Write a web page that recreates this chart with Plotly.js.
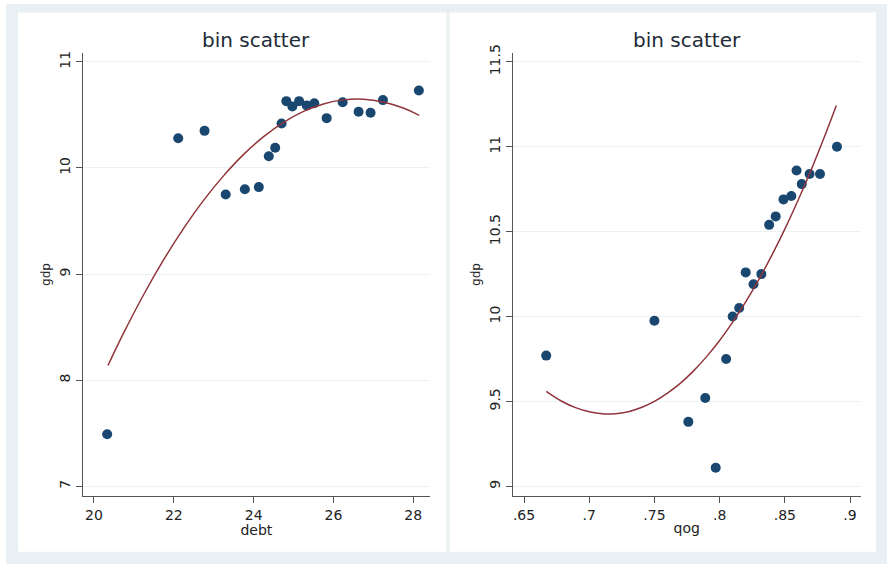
<!DOCTYPE html>
<html>
<head>
<meta charset="utf-8">
<script src="https://cdn.plot.ly/plotly-3.0.1.min.js"></script>
<style>html,body{margin:0;padding:0;background:#fff;}#chart{width:887px;height:564px;}</style>
</head>
<body>
<div id="chart"></div>
<script>
// Left panel: binned debt vs gdp
var debt = [20.33, 22.11, 22.77, 23.30, 23.78, 24.13, 24.38, 24.54, 24.70, 24.82, 24.97, 25.14, 25.33, 25.52, 25.83, 26.23, 26.63, 26.93, 27.24, 28.14];
var gdpByDebt = [7.49, 10.28, 10.35, 9.75, 9.80, 9.82, 10.11, 10.19, 10.42, 10.63, 10.58, 10.63, 10.59, 10.61, 10.47, 10.62, 10.53, 10.52, 10.64, 10.73];
// Left panel: quadratic fit line
var fitDebtX = [20.35, 20.75, 21.25, 21.75, 22.25, 22.75, 23.25, 23.75, 24.25, 24.75, 25.25, 25.75, 26.25, 26.75, 27.25, 27.75, 28.15];
var fitDebtY = [8.138, 8.450, 8.810, 9.138, 9.433, 9.697, 9.928, 10.128, 10.295, 10.430, 10.533, 10.604, 10.642, 10.649, 10.623, 10.565, 10.496];

// Right panel: binned qog vs gdp
var qog = [0.667, 0.750, 0.776, 0.789, 0.797, 0.805, 0.810, 0.815, 0.820, 0.826, 0.832, 0.838, 0.843, 0.849, 0.855, 0.859, 0.863, 0.869, 0.877, 0.890];
var gdpByQog = [9.77, 9.975, 9.38, 9.52, 9.11, 9.75, 10.00, 10.05, 10.26, 10.19, 10.25, 10.54, 10.59, 10.69, 10.71, 10.86, 10.78, 10.84, 10.84, 11.00];
// Right panel: quadratic fit line
var fitQogX = [0.667, 0.68, 0.69, 0.70, 0.71, 0.72, 0.73, 0.74, 0.75, 0.76, 0.77, 0.78, 0.79, 0.80, 0.81, 0.82, 0.83, 0.84, 0.85, 0.86, 0.87, 0.88, 0.8895];
var fitQogY = [9.560, 9.497, 9.462, 9.439, 9.427, 9.428, 9.440, 9.464, 9.500, 9.549, 9.608, 9.680, 9.764, 9.859, 9.967, 10.086, 10.217, 10.360, 10.515, 10.682, 10.860, 11.051, 11.243];

// Tick labels
var debtTicks = [20, 22, 24, 26, 28];
var debtTickText = ["20", "22", "24", "26", "28"];
var gdpTicksL = [7, 8, 9, 10, 11];
var gdpTickTextL = ["7", "8", "9", "10", "11"];
var qogTicks = [0.65, 0.7, 0.75, 0.8, 0.85, 0.9];
var qogTickText = [".65", ".7", ".75", ".8", ".85", ".9"];
var gdpTicksR = [9, 9.5, 10, 10.5, 11, 11.5];
var gdpTickTextR = ["9", "9.5", "10", "10.5", "11", "11.5"];

var panelTitle = "bin scatter";

var navy = "#1a476f";
var maroon = "#90353b";
var FONT = "DejaVu Sans";
var W = 887, H = 564;
function px(x){ return x / W; }
function py(y){ return 1 - y / H; }

var traces = [
  {x: debt, y: gdpByDebt, type: "scatter", mode: "markers", xaxis: "x", yaxis: "y",
   marker: {color: navy, size: 10}},
  {x: fitDebtX, y: fitDebtY, type: "scatter", mode: "lines", xaxis: "x", yaxis: "y",
   line: {color: maroon, width: 1.5, shape: "spline", smoothing: 1.2}},
  {x: qog, y: gdpByQog, type: "scatter", mode: "markers", xaxis: "x2", yaxis: "y2",
   marker: {color: navy, size: 10}},
  {x: fitQogX, y: fitQogY, type: "scatter", mode: "lines", xaxis: "x2", yaxis: "y2",
   line: {color: maroon, width: 1.5, shape: "spline", smoothing: 1.2}}
];

var axisCommon = {
  showline: true, linecolor: "#555555", linewidth: 1,
  ticks: "outside", ticklen: 6, tickcolor: "#555555", tickwidth: 1,
  tickfont: {family: FONT, size: 14, color: "#222222"},
  zeroline: false, tickmode: "array"
};
function ax(extra){ return Object.assign({}, axisCommon, extra); }

var yDom = [py(495.7), py(53.2)];

var layout = {
  width: W, height: H,
  margin: {l: 0, r: 0, t: 0, b: 0, pad: 0},
  paper_bgcolor: "#ffffff",
  plot_bgcolor: "rgba(0,0,0,0)",
  showlegend: false,
  font: {family: FONT, color: "#222222"},
  xaxis: ax({domain: [px(82.7), px(430)], range: [19.717, 28.419], anchor: "y",
    tickvals: debtTicks, ticktext: debtTickText, showgrid: false,
    title: {text: "debt", font: {family: FONT, size: 14, color: "#222222"}, standoff: 1}}),
  yaxis: ax({domain: yDom, range: [6.911, 11.082], anchor: "x",
    tickvals: gdpTicksL, ticktext: gdpTickTextL, tickangle: -90,
    showgrid: true, gridcolor: "#eaf2f3", gridwidth: 1,
    title: {text: "gdp", font: {family: FONT, size: 12, color: "#222222"}, standoff: 3}}),
  xaxis2: ax({domain: [px(512.7), px(860.7)], range: [0.6413, 0.9082], anchor: "y2",
    tickvals: qogTicks, ticktext: qogTickText, showgrid: false,
    title: {text: "qog", font: {family: FONT, size: 14, color: "#222222"}, standoff: 1}}),
  yaxis2: ax({domain: yDom, range: [8.945, 11.551], anchor: "x2",
    tickvals: gdpTicksR, ticktext: gdpTickTextR, tickangle: -90,
    showgrid: true, gridcolor: "#eaf2f3", gridwidth: 1,
    title: {text: "gdp", font: {family: FONT, size: 12, color: "#222222"}, standoff: 3}}),
  shapes: [
    {type: "rect", xref: "paper", yref: "paper", layer: "below",
     x0: px(6), x1: 1, y0: 0, y1: py(4), fillcolor: "#e9f0f3", line: {width: 0}},
    {type: "rect", xref: "paper", yref: "paper", layer: "below",
     x0: px(18), x1: px(446.5), y0: py(551.7), y1: py(12.5), fillcolor: "#ffffff", line: {width: 0}},
    {type: "rect", xref: "paper", yref: "paper", layer: "below",
     x0: px(449.5), x1: px(876), y0: py(551.7), y1: py(12.5), fillcolor: "#ffffff", line: {width: 0}}
  ],
  annotations: [
    {text: panelTitle, xref: "paper", yref: "paper", x: px(256.4), y: py(39.6),
     xanchor: "center", yanchor: "middle", showarrow: false,
     font: {family: FONT, size: 20, color: "#222b38"}},
    {text: panelTitle, xref: "paper", yref: "paper", x: px(686.7), y: py(39.6),
     xanchor: "center", yanchor: "middle", showarrow: false,
     font: {family: FONT, size: 20, color: "#222b38"}}
  ]
};

Plotly.newPlot("chart", traces, layout, {displayModeBar: false, staticPlot: true});
</script>
</body>
</html>
